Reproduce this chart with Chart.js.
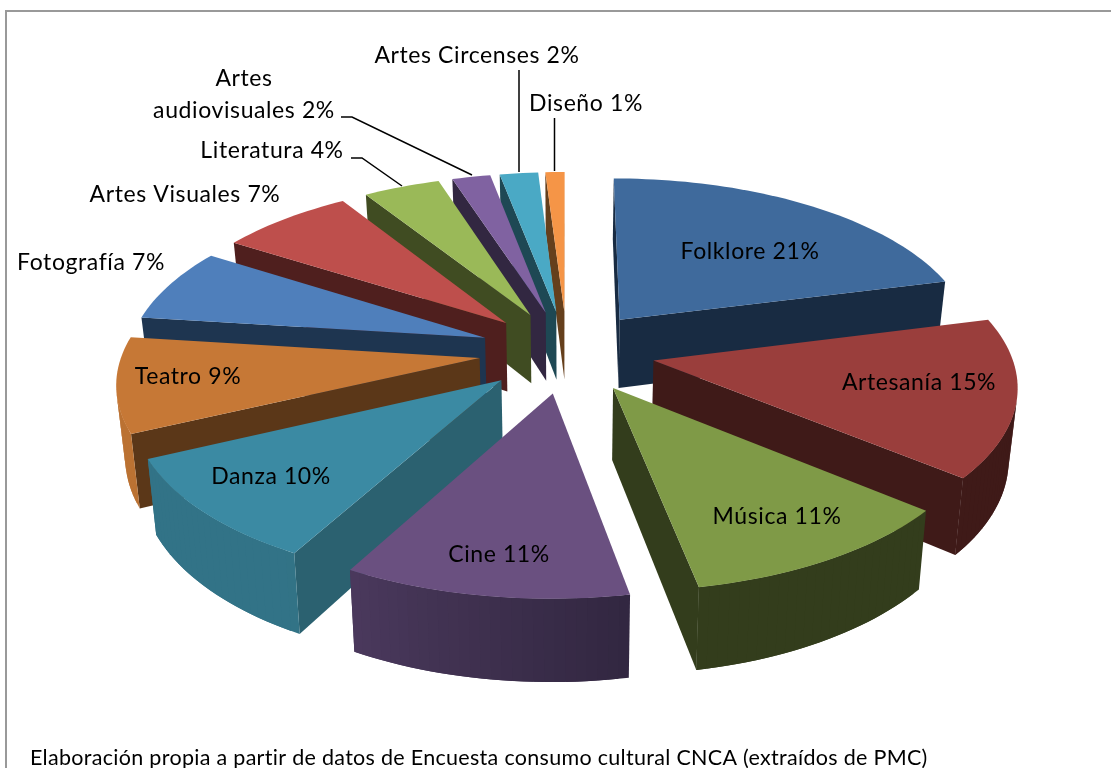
<!DOCTYPE html>
<html><head><meta charset="utf-8">
<style>html,body{margin:0;padding:0;background:#fff}canvas{display:block}</style>
<script src="https://cdn.jsdelivr.net/npm/chart.js@4"></script>
</head><body>
<canvas id="c" width="1111" height="768"></canvas>
<script>
const categories = ["Folklore","Artesanía","Música","Cine","Danza","Teatro","Fotografía","Artes Visuales","Literatura","Artes audiovisuales","Artes Circenses","Diseño"];
const shares = [21,15,11,11,10,9,7,7,4,2,2,1];
const topColors = ["#3f6a9c","#9a3e3c","#7f9a47","#6a5080","#3b8aa3","#c67836","#4f7fbb","#be4f4c","#9ab958","#8062a1","#4aa9c5","#f59547"];
const wallColors = ["#182b42","#3f1a18","#333d1c","#322741","#2b6170","#5b3718","#1e3550","#4f1f1e","#404c22","#322741","#1e4854","#653f1c"];
const footnote = "Elaboración propia a partir de datos de Encuesta consumo cultural CNCA (extraídos de PMC)";

// layout
const labelAt = [[750,252],[919,383],[777,517],[499,555],[271,477],[188,377],[91,263],[185,195],[272,151],[244,95],[477,56],[586,104]];
const labelLines = {9:["Artes","audiovisuales 2%"]};
const leaders = [
  [[341,117],[352,117],[472,175]],
  [[351,158],[362,158],[402,186]],
  [[519,70],[519,172]],
  [[554.5,118],[554.5,171]]
];
const view = {cx:567, cy:351.5, R:357, k:0.468, p:0.00036, q:0.02, d:70, explode:88};

function project(u,v,z){
  const s = 1/(1 - view.p*v);
  return [view.cx + u*s*(1-view.q*z), view.cy + view.k*v*s + z*view.d*s];
}
function hex(c){return [1,3,5].map(i=>parseInt(c.substr(i,2),16));}
function mix(a,b,t){const A=hex(a),B=hex(b);return `rgb(${A.map((x,i)=>Math.round(x+(B[i]-x)*t)).join(",")})`;}
function poly(ctx,pts,fill){
  ctx.beginPath();pts.forEach((p,i)=>i?ctx.lineTo(p[0],p[1]):ctx.moveTo(p[0],p[1]));ctx.closePath();
  ctx.fillStyle=fill;ctx.fill();
}
function area(p){let a=0;p.forEach((q,i)=>{const r=p[(i+1)%p.length];a+=q[0]*r[1]-r[0]*q[1];});return a;}
function quad(A,B){return [project(A[0],A[1],0),project(B[0],B[1],0),project(B[0],B[1],1),project(A[0],A[1],1)];}

const pie3d = {
  id:"pie3d",
  beforeDatasetsDraw(chart){
    const ctx = chart.ctx, meta = chart.getDatasetMeta(0);
    const slices = meta.data.map((arc,i)=>{
      const a0 = arc.startAngle + Math.PI/2, a1 = arc.endAngle + Math.PI/2, m=(a0+a1)/2;
      return {i,a0,a1,u0:view.explode*Math.sin(m),v0:-view.explode*Math.cos(m)};
    }).sort((a,b)=>a.v0-b.v0);
    ctx.save();
    for(const sl of slices){
      const n = Math.max(2,Math.ceil((sl.a1-sl.a0)/(Math.PI/120)));
      const rim=[];
      for(let j=0;j<=n;j++){
        const a=sl.a0+(sl.a1-sl.a0)*j/n;
        rim.push([sl.u0+view.R*Math.sin(a),sl.v0-view.R*Math.cos(a),a]);
      }
      const apex=[sl.u0,sl.v0];
      const top=[project(apex[0],apex[1],0),...rim.map(r=>project(r[0],r[1],0))];
      const wall=wallColors[sl.i], col=topColors[sl.i];
      const f1=quad(apex,rim[0]), f2=quad(rim[n],apex);
      if(area(f1)<0) poly(ctx,f1,wall);
      if(area(f2)<0) poly(ctx,f2,wall);
      for(let j=0;j<n;j++){
        if(area(quad(rim[j],rim[j+1]))>=0) continue;
        const deg=(rim[j][2]+rim[j+1][2])/2*180/Math.PI;
        const t=deg<245 ? Math.min(0.45,Math.max(0,(deg-170)/90)) : 0.9;
        // each strip runs under the next one so no seam shows between them
        poly(ctx,quad(rim[j],rim[Math.min(n,j+2)]),mix(wall,col,t));
      }
      poly(ctx,top,col);
    }
    // leader lines
    ctx.strokeStyle="#000";ctx.lineWidth=1.5;
    leaders.forEach(l=>{ctx.beginPath();l.forEach((p,i)=>i?ctx.lineTo(p[0],p[1]):ctx.moveTo(p[0],p[1]));ctx.stroke();});
    // frame
    ctx.strokeStyle="#999";ctx.lineWidth=2;
    ctx.beginPath();ctx.moveTo(1111,11);ctx.lineTo(6,11);ctx.lineTo(6,768);ctx.stroke();
    // labels
    ctx.fillStyle="#000";ctx.font='23px Lato';ctx.letterSpacing="0.6px";ctx.textAlign="center";ctx.textBaseline="middle";
    categories.forEach((name,i)=>{
      const [x,y]=labelAt[i];
      const lines=labelLines[i]||[`${name} ${shares[i]}%`];
      lines.forEach((t,j)=>ctx.fillText(t,x,y+(j-(lines.length-1)/2)*32));
    });
    ctx.textAlign="left";ctx.font='21.5px Lato';ctx.letterSpacing="0.3px";
    ctx.fillText(footnote,30,758);
    ctx.restore();
    return false;
  }
};

new Chart(document.getElementById("c"),{
  type:"pie",
  data:{labels:categories,datasets:[{data:shares,backgroundColor:topColors,borderWidth:0}]},
  options:{responsive:false,animation:false,events:[],plugins:{legend:{display:false},tooltip:{enabled:false}}},
  plugins:[pie3d]
});
</script>
</body></html>
